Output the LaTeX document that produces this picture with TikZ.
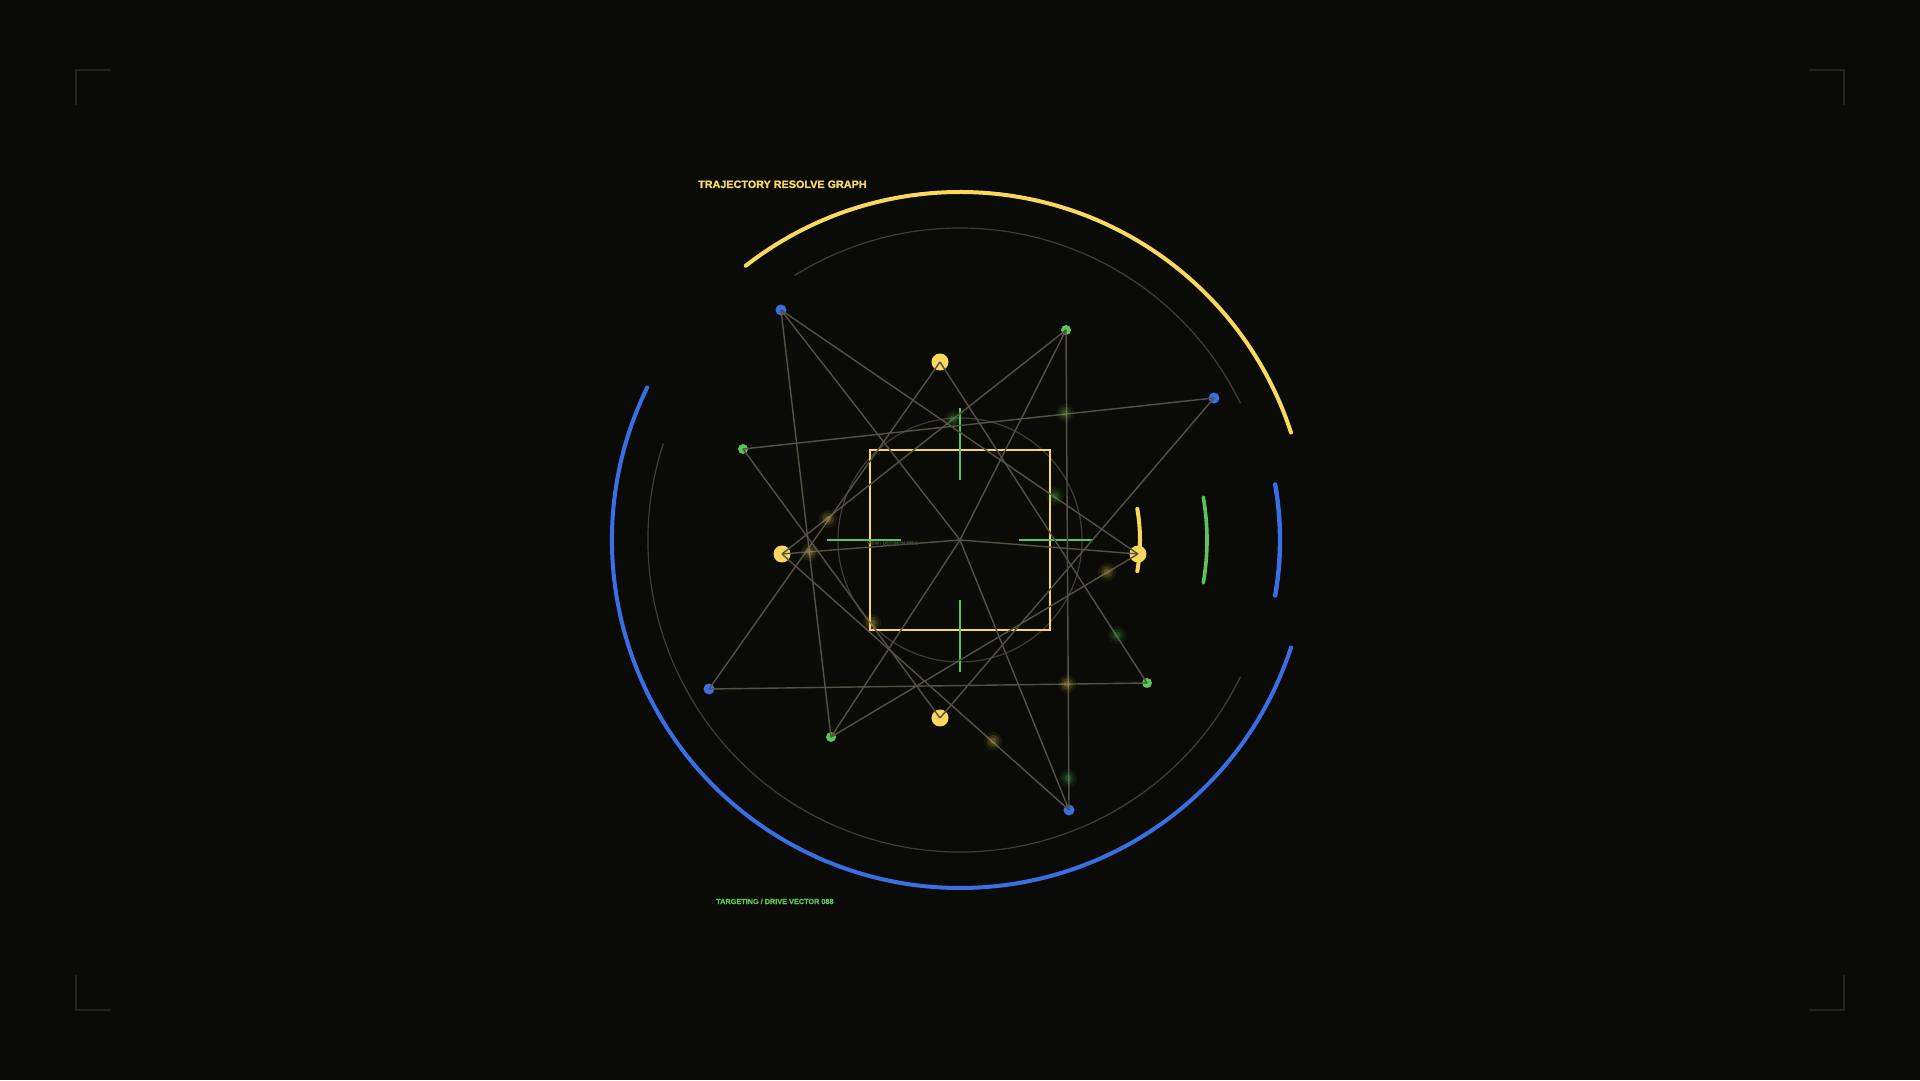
\documentclass[tikz,border=0pt]{standalone}
\usepackage{fontspec}
\setmainfont{Liberation Sans}
\newfontfamily\hudfont[FakeBold=1.2]{Liberation Sans Bold}
\definecolor{bg}{RGB}{10,11,6}
\definecolor{hy}{RGB}{250,216,96}
\definecolor{hg}{RGB}{92,196,88}
\definecolor{hb}{RGB}{58,110,228}
\definecolor{edgec}{RGB}{84,81,68}
\definecolor{ringc}{RGB}{64,62,52}
\definecolor{brk}{RGB}{36,36,28}
\begin{document}
\begin{tikzpicture}[x=1pt,y=1pt,
  ringline/.style={draw=ringc,line width=1.2pt},
  outerarc/.style={line width=4pt,line cap=round},
  shortarc/.style={line width=4pt,line cap=round},
  tick/.style={draw=hg,line width=2.8pt},
  bnode/.style={circle,fill=hb,minimum size=11pt,inner sep=0pt},
  gnode/.style={circle,fill=hg,minimum size=10pt,inner sep=0pt},
  ynode/.style={circle,fill=hy,minimum size=17pt,inner sep=0pt},
  edgeline/.style={draw=edgec,line width=1.4pt},
  bracket/.style={draw=brk,line width=2pt},
  title/.style={font=\hudfont\fontsize{10.8}{12}\selectfont,text=hy,anchor=base west,inner sep=0pt},
  foot/.style={font=\hudfont\fontsize{7.3}{9}\selectfont,text=hg,anchor=base west,inner sep=0pt},
  tiny/.style={font=\hudfont\fontsize{4.6}{5}\selectfont,text=ringc,anchor=west,inner sep=0pt}
]
\fill[bg] (0,0) rectangle (1920,1080);
\useasboundingbox (0,0) rectangle (1920,1080);

% corner brackets
\draw[bracket] (76,975) -- (76,1010) -- (111,1010);
\draw[bracket] (1809,1010) -- (1844,1010) -- (1844,975);
\draw[bracket] (76,105) -- (76,70) -- (111,70);
\draw[bracket] (1809,70) -- (1844,70) -- (1844,105);

\coordinate (C) at (960,540);

% rings
\draw[ringline] (C) ++(26:312) arc[start angle=26,end angle=122,radius=312];
\draw[ringline] (C) ++(162:312) arc[start angle=162,end angle=334,radius=312];
\draw[ringline] (C) circle (122);
\draw[outerarc,hy] (C) ++(18:348) arc[start angle=18,end angle=128,radius=348];
\draw[outerarc,hb] (C) ++(154:348) arc[start angle=154,end angle=342,radius=348];
\draw[shortarc,hy] (C) ++(-10:180) arc[start angle=-10,end angle=10,radius=180];
\draw[shortarc,hg,line width=3.6pt] (C) ++(-10:247) arc[start angle=-10,end angle=10,radius=247];
\draw[shortarc,hb,line width=4.4pt] (C) ++(-10:320) arc[start angle=-10,end angle=10,radius=320];

% square and crosshair ticks
\draw[hy,line width=2.6pt] (870,450) rectangle (1050,630);
\draw[tick] (827,540) -- (901,540);
\draw[tick] (1019,540) -- (1093,540);
\draw[tick] (960,600) -- (960,672);
\draw[tick] (960,408) -- (960,480);

% graph nodes
\node[bnode] (B1) at (781,770) {};
\node[gnode] (G1) at (1066,750) {};
\node[ynode] (Y1) at (940,718) {};
\node[bnode] (B2) at (1214,682) {};
\node[gnode] (G2) at (743,631) {};
\node[ynode] (Y2) at (782,526) {};
\node[ynode] (Y3) at (1138,526) {};
\node[gnode] (G3) at (1147,397) {};
\node[bnode] (B3) at (709,391) {};
\node[ynode] (Y4) at (940,362) {};
\node[gnode] (G4) at (831,343) {};
\node[bnode] (B4) at (1069,270) {};

% edges
\draw[edgeline] (B1.center) -- (G4.center);
\draw[edgeline] (B1.center) -- (C);
\draw[edgeline] (B1.center) -- (Y3.center);
\draw[edgeline] (G1.center) -- (Y2.center);
\draw[edgeline] (G1.center) -- (C);
\draw[edgeline] (G1.center) -- (B4.center);
\draw[edgeline] (B2.center) -- (G2.center);
\draw[edgeline] (B2.center) -- (Y4.center);
\draw[edgeline] (G2.center) -- (Y4.center);
\draw[edgeline] (Y1.center) -- (B3.center);
\draw[edgeline] (Y1.center) -- (G3.center);
\draw[edgeline] (B3.center) -- (G3.center);
\draw[edgeline] (Y2.center) -- (C);
\draw[edgeline] (Y2.center) -- (B4.center);
\draw[edgeline] (Y3.center) -- (C);
\draw[edgeline] (Y3.center) -- (G4.center);
\draw[edgeline] (G4.center) -- (C);
\draw[edgeline] (B4.center) -- (C);

% glowing particles
\foreach \px/\py/\pc in {1065/667/hg!60!hy, 1055/584/hg, 1107/508/hy, 1117/445/hg, 1067/396/hy, 993/339/hy, 1068/302/hg, 828/561/hy, 810/528/hy, 872/457/hy, 953/661/hg}{
  \fill[\pc,opacity=0.07] (\px,\py) circle (9);
  \fill[\pc,opacity=0.12] (\px,\py) circle (6);
  \fill[\pc,opacity=0.18] (\px,\py) circle (3.5);
}

% texts
\node[title] (t1) at (698,892) {TRAJECTORY RESOLVE GRAPH};
\node[foot] (t2) at (716,176) {TARGETING / DRIVE VECTOR 088};
\node[tiny] (t3) at (867,537) {VIEW / DECISION 88BC};
\end{tikzpicture}
\end{document}
